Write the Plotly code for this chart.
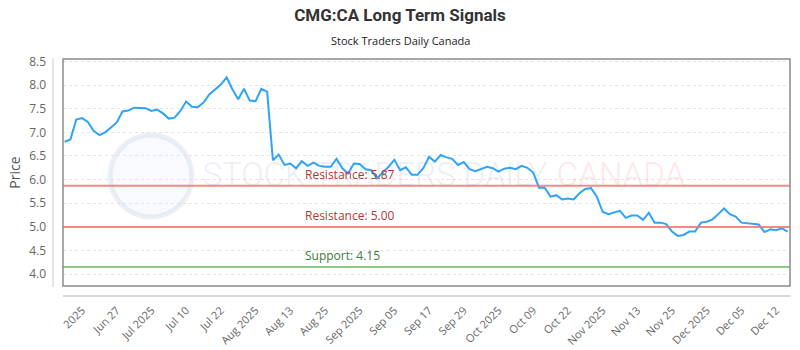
import plotly.graph_objects as go

# ---------------- data ----------------
prices = [
    6.80, 6.85, 7.27, 7.30, 7.22, 7.03, 6.94, 7.00, 7.10, 7.21,
    7.44, 7.46, 7.52, 7.52, 7.51, 7.45, 7.48, 7.40, 7.29, 7.31,
    7.45, 7.65, 7.54, 7.53, 7.63, 7.80, 7.91, 8.01, 8.16, 7.91,
    7.70, 7.92, 7.67, 7.66, 7.92, 7.86, 6.41, 6.53, 6.31, 6.34,
    6.24, 6.39, 6.29, 6.36, 6.29, 6.27, 6.27, 6.44, 6.24, 6.13,
    6.34, 6.33, 6.22, 6.20, 6.03, 6.15, 6.27, 6.42, 6.20, 6.26,
    6.10, 6.10, 6.24, 6.48, 6.38, 6.52, 6.47, 6.44, 6.31, 6.37,
    6.22, 6.18, 6.23, 6.27, 6.24, 6.17, 6.23, 6.25, 6.22, 6.29,
    6.25, 6.15, 5.83, 5.83, 5.64, 5.67, 5.58, 5.60, 5.58, 5.71,
    5.80, 5.82, 5.64, 5.32, 5.27, 5.30, 5.34, 5.19, 5.24, 5.24,
    5.15, 5.30, 5.09, 5.09, 5.06, 4.90, 4.81, 4.83, 4.90, 4.90,
    5.09, 5.11, 5.16, 5.27, 5.39, 5.27, 5.22, 5.09, 5.08, 5.06,
    5.05, 4.89, 4.95, 4.93, 4.97, 4.90,
]
tick_labels = ["2025", "Jun 27", "Jul 2025", "Jul 10", "Jul 22", "Aug 2025",
               "Aug 13", "Aug 25", "Sep 2025", "Sep 05", "Sep 17", "Sep 29",
               "Oct 2025", "Oct 09", "Oct 22", "Nov 2025", "Nov 13", "Nov 25",
               "Dec 2025", "Dec 05", "Dec 12"]
tick_step = 6
tick_start = 3
resistance_levels = [5.87, 5.00]
support_levels = [4.15]
watermark_words = ["STOCK TRADERS DAILY", "CANADA"]

x_idx = list(range(len(prices)))
tick_vals = [tick_start + tick_step * k for k in range(len(tick_labels))]

FONT = "Open Sans"
PW, PH, L, T = 727, 227, 63, 59  # plot box in pixels
X_RANGE = [-0.29, 125.4]
Y_RANGE = [3.75, 8.55]


def px(xp):
    return (xp - L) / PW


def py(yp):
    return (T + PH - yp) / PH


def dx(xp):  # pixel -> data x (for decoration placement)
    return X_RANGE[0] + px(xp) * (X_RANGE[1] - X_RANGE[0])


def dy(yp):  # pixel -> data y (for decoration placement)
    return Y_RANGE[0] + py(yp) * (Y_RANGE[1] - Y_RANGE[0])


fig = go.Figure()
# faint watermark text, drawn beneath the price line
fig.add_trace(go.Scatter(x=[dx(375), dx(621)], y=[dy(178), dy(178)], mode="text",
                         text=watermark_words, textposition="middle center",
                         textfont=dict(family="Roboto", size=33, weight=300,
                                       color=["rgba(170,182,210,0.22)", "rgba(255,130,130,0.2)"]),
                         hoverinfo="skip", showlegend=False))
fig.add_trace(go.Scatter(x=x_idx, y=prices, mode="lines",
                         line=dict(color="#2fa4f7", width=2),
                         hoverinfo="skip", showlegend=False))

shapes = []
annotations = []
for lvl in resistance_levels:
    shapes.append(dict(type="line", xref="paper", x0=0, x1=1, yref="y", y0=lvl, y1=lvl,
                       line=dict(color="rgba(235,120,115,0.85)", width=2), layer="above"))
    annotations.append(dict(xref="paper", x=px(303), yref="y", y=lvl, yanchor="bottom", yshift=1,
                            text=f"Resistance: {lvl:.2f}", showarrow=False,
                            font=dict(family=FONT, size=12, color="#b03a32")))
for lvl in support_levels:
    shapes.append(dict(type="line", xref="paper", x0=0, x1=1, yref="y", y0=lvl, y1=lvl,
                       line=dict(color="rgba(120,190,120,0.85)", width=2), layer="above"))
    annotations.append(dict(xref="paper", x=px(303), yref="y", y=lvl, yanchor="bottom", yshift=1,
                            text=f"Support: {lvl:.2f}", showarrow=False,
                            font=dict(family=FONT, size=12, color="#3a7d3a")))

# plot frame, separate axis lines
shapes.append(dict(type="rect", xref="paper", yref="paper", x0=0, x1=1, y0=0, y1=1,
                   line=dict(color="#8a8a8a", width=1.5), layer="above"))
shapes.append(dict(type="line", xref="paper", yref="paper", x0=px(53), x1=px(53), y0=py(287), y1=py(58),
                   line=dict(color="#cccccc", width=1)))
shapes.append(dict(type="line", xref="paper", yref="paper", x0=0, x1=1, y0=py(296), y1=py(296),
                   line=dict(color="#cccccc", width=1.5)))
# watermark logo circle
shapes.append(dict(type="circle", xref="paper", yref="paper",
                   x0=px(110), x1=px(192), y0=py(217), y1=py(135),
                   line=dict(color="rgba(170,185,215,0.22)", width=5),
                   fillcolor="rgba(200,210,235,0.12)", layer="below"))

annotations.append(dict(xref="paper", yref="paper", x=px(400), y=py(40), yanchor="middle",
                        text="Stock Traders Daily Canada", showarrow=False,
                        font=dict(family=FONT, size=11, color="#222222")))

fig.update_layout(
    width=800, height=350,
    margin=dict(l=L, r=800 - L - PW, t=T, b=350 - T - PH, autoexpand=False),
    paper_bgcolor="white", plot_bgcolor="white",
    title=dict(text="<b>CMG:CA Long Term Signals</b>", x=0.5, xanchor="center",
               y=1 - 15 / 350, yanchor="middle",
               font=dict(family="Roboto", size=17, color="#333333")),
    shapes=shapes, annotations=annotations,
    xaxis=dict(range=X_RANGE, tickmode="array", tickvals=tick_vals, ticktext=tick_labels,
               tickangle=-45, showgrid=False, zeroline=False, showline=False, automargin=False,
               ticks="", ticklabelstandoff=15,
               tickfont=dict(family=FONT, size=11, color="#666666")),
    yaxis=dict(range=Y_RANGE, tickmode="array", automargin=False,
               tickvals=[4.0, 4.5, 5.0, 5.5, 6.0, 6.5, 7.0, 7.5, 8.0, 8.5],
               ticktext=["4.0", "4.5", "5.0", "5.5", "6.0", "6.5", "7.0", "7.5", "8.0", "8.5"],
               showgrid=True, gridcolor="#e3e3e3", griddash="dot", gridwidth=1,
               zeroline=False, showline=False, ticks="", ticklabelstandoff=16,
               tickfont=dict(family=FONT, size=12, color="#666666"),
               title=dict(text="Price", font=dict(family=FONT, size=14, color="#555555"),
                          standoff=5)),
)

fig.write_html("out.html")
